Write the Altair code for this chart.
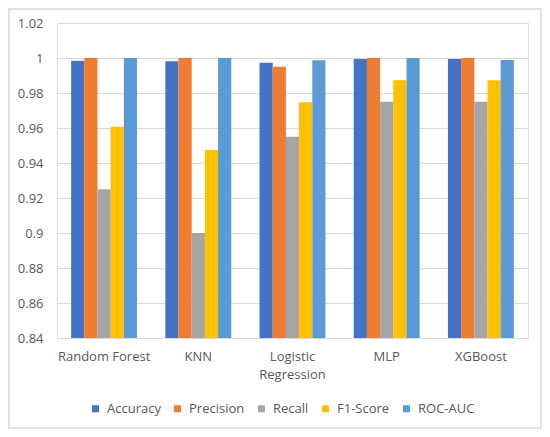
import altair as alt
import pandas as pd

models = ["Random Forest", "KNN", "Logistic Regression", "MLP", "XGBoost"]
metrics = ["Accuracy", "Precision", "Recall", "F1-Score", "ROC-AUC"]
accuracy = [0.9985, 0.9981, 0.9973, 0.9994, 0.9994]
precision = [1.0, 1.0, 0.995, 1.0, 1.0]
recall = [0.925, 0.9, 0.955, 0.975, 0.975]
f1_score = [0.9607, 0.9474, 0.9747, 0.9873, 0.9873]
roc_auc = [1.0, 1.0, 0.9987, 1.0, 0.9989]
colors = ["#4472C4", "#ED7D31", "#A5A5A5", "#FFC000", "#5B9BD5"]
y_ticks = [0.84, 0.86, 0.88, 0.9, 0.92, 0.94, 0.96, 0.98, 1.0, 1.02]

series = [accuracy, precision, recall, f1_score, roc_auc]
rows = []
for m, vals in zip(metrics, series):
    for model, v in zip(models, vals):
        rows.append({"Model": model, "Metric": m, "Value": v})
df = pd.DataFrame(rows)

W, H = 471, 315
FONT = "Open Sans"
TXT = "#595959"

bars = alt.Chart(df).mark_bar().encode(
    x=alt.X("Model:N", sort=models,
            scale=alt.Scale(paddingInner=0.3, paddingOuter=0.15),
            axis=alt.Axis(title=None, labelAngle=0, ticks=False, domainColor="#d9d9d9",
                          labelPadding=12, labelFontSize=13, labelColor=TXT, labelFont=FONT,
                          labelLineHeight=18,
                          labelExpr="datum.label == 'Logistic Regression' ? ['Logistic', 'Regression'] : datum.label")),
    xOffset=alt.XOffset("Metric:N", sort=metrics, scale=alt.Scale(paddingInner=0, paddingOuter=0)),
    y=alt.Y("Value:Q", scale=alt.Scale(domain=[0.84, 1.02], zero=False, nice=False),
            axis=alt.Axis(title=None, values=y_ticks, format="~g", ticks=False, domain=False,
                          gridColor="#d9d9d9", labelPadding=14, labelFontSize=13,
                          labelColor=TXT, labelFont=FONT)),
    y2=alt.datum(0.84),
    color=alt.Color("Metric:N", sort=metrics,
                    scale=alt.Scale(domain=metrics, range=colors),
                    legend=alt.Legend(title=None, orient="none", direction="horizontal",
                                      legendX=32, legendY=379, symbolType="square",
                                      symbolSize=49, symbolStrokeWidth=0, labelFontSize=13,
                                      labelColor=TXT, labelFont=FONT, columnPadding=10,
                                      labelOffset=5)),
)

border = alt.Chart(pd.DataFrame({"a": [0]})).mark_rect(
    fill=None, stroke="#d9d9d9", strokeWidth=1.5
).encode(
    x=alt.value(-48), x2=alt.value(484), y=alt.value(-14), y2=alt.value(405)
)

chart = alt.layer(border, bars).properties(
    width=W, height=H,
    autosize=alt.AutoSizeParams(type="none"),
    padding={"left": 49, "top": 15, "right": 14, "bottom": 91},
).configure_view(stroke=None).configure(background="white")

chart.save("out.html", embed_options={"renderer": "svg", "actions": False})
